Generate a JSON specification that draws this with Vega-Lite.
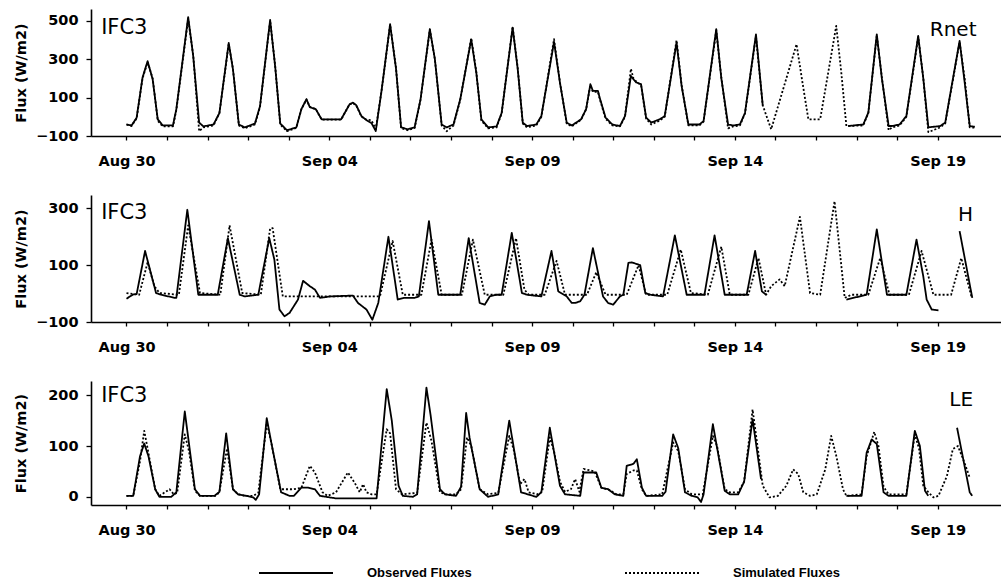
{
  "$schema": "https://vega.github.io/schema/vega-lite/v6.json",
  "padding": {"left": 13, "top": 9, "right": 0, "bottom": 0},
  "bounds": "flush",
  "spacing": 59,
  "config": {
    "view": {"stroke": null},
    "font": "DejaVu Sans",
    "axis": {
      "grid": false,
      "domainColor": "black",
      "domainWidth": 1.6,
      "tickColor": "black",
      "tickWidth": 1.3,
      "labelColor": "black",
      "labelFont": "DejaVu Sans",
      "labelFontWeight": "bold",
      "labelFontSize": 14.5,
      "titleColor": "black",
      "titleFont": "DejaVu Sans",
      "titleFontWeight": "bold",
      "titleFontSize": 14.5
    },
    "axisX": {"tickSize": 4, "labelPadding": 14, "title": null},
    "axisY": {"tickSize": 5, "labelPadding": 8, "titleAngle": 270, "titleX": -70, "titleBaseline": "middle", "titleAlign": "center"},
    "line": {"color": "black", "strokeWidth": 1.8, "strokeJoin": "round"},
    "legend": {
      "orient": "none",
      "legendX": 167,
      "legendY": 526,
      "direction": "horizontal",
      "padding": 0,
      "symbolType": "stroke",
      "symbolSize": 5476,
      "symbolStrokeWidth": 1.8,
      "symbolStrokeColor": "black",
      "labelFont": "Liberation Sans",
      "labelFontWeight": "bold",
      "labelFontSize": 13,
      "labelColor": "black",
      "labelOffset": 33,
      "columnPadding": 152
    }
  },
  "datasets": {
    "rnet_obs": [
      {"t":"1987-08-30T00:00Z","v":-40},{"t":"1987-08-30T03:00Z","v":-45},{"t":"1987-08-30T06:00Z","v":-5},{"t":"1987-08-30T09:30Z","v":205},{"t":"1987-08-30T12:30Z","v":290},{"t":"1987-08-30T15:30Z","v":195},{"t":"1987-08-30T18:30Z","v":-13},{"t":"1987-08-30T21:30Z","v":-45},
      {"t":"1987-08-31T03:30Z","v":-45},{"t":"1987-08-31T05:30Z","v":40},{"t":"1987-08-31T12:30Z","v":520},{"t":"1987-08-31T15:30Z","v":315},{"t":"1987-08-31T19:00Z","v":-30},{"t":"1987-08-31T21:30Z","v":-50},
      {"t":"1987-09-01T03:30Z","v":-40},{"t":"1987-09-01T07:00Z","v":20},{"t":"1987-09-01T12:30Z","v":385},{"t":"1987-09-01T15:00Z","v":248},{"t":"1987-09-01T18:30Z","v":-40},{"t":"1987-09-01T22:00Z","v":-55},
      {"t":"1987-09-02T04:00Z","v":-35},{"t":"1987-09-02T07:00Z","v":55},{"t":"1987-09-02T13:00Z","v":505},{"t":"1987-09-02T16:00Z","v":260},{"t":"1987-09-02T19:00Z","v":-35},{"t":"1987-09-02T23:00Z","v":-70},
      {"t":"1987-09-03T04:30Z","v":-55},{"t":"1987-09-03T07:30Z","v":40},{"t":"1987-09-03T10:30Z","v":92},{"t":"1987-09-03T12:30Z","v":50},{"t":"1987-09-03T16:00Z","v":40},{"t":"1987-09-03T19:30Z","v":-13},
      {"t":"1987-09-04T07:00Z","v":-13},{"t":"1987-09-04T12:00Z","v":65},{"t":"1987-09-04T14:00Z","v":74},{"t":"1987-09-04T16:00Z","v":60},{"t":"1987-09-04T19:00Z","v":4},{"t":"1987-09-04T22:00Z","v":-17},
      {"t":"1987-09-05T01:00Z","v":-33},{"t":"1987-09-05T03:30Z","v":-74},{"t":"1987-09-05T07:00Z","v":140},{"t":"1987-09-05T12:00Z","v":483},{"t":"1987-09-05T15:30Z","v":250},{"t":"1987-09-05T18:30Z","v":-55},{"t":"1987-09-05T22:30Z","v":-65},
      {"t":"1987-09-06T02:30Z","v":-55},{"t":"1987-09-06T06:00Z","v":91},{"t":"1987-09-06T11:30Z","v":457},{"t":"1987-09-06T14:30Z","v":300},{"t":"1987-09-06T18:30Z","v":-40},{"t":"1987-09-06T21:30Z","v":-55},
      {"t":"1987-09-07T01:30Z","v":-40},{"t":"1987-09-07T05:30Z","v":91},{"t":"1987-09-07T12:00Z","v":404},{"t":"1987-09-07T15:00Z","v":230},{"t":"1987-09-07T18:00Z","v":-13},{"t":"1987-09-07T22:00Z","v":-55},
      {"t":"1987-09-08T03:00Z","v":-50},{"t":"1987-09-08T06:00Z","v":20},{"t":"1987-09-08T12:30Z","v":465},{"t":"1987-09-08T15:30Z","v":250},{"t":"1987-09-08T18:30Z","v":-30},{"t":"1987-09-08T21:00Z","v":-48},
      {"t":"1987-09-09T02:30Z","v":-40},{"t":"1987-09-09T05:30Z","v":4},{"t":"1987-09-09T13:00Z","v":390},{"t":"1987-09-09T16:30Z","v":178},{"t":"1987-09-09T20:30Z","v":-30},{"t":"1987-09-09T23:30Z","v":-45},
      {"t":"1987-09-10T05:00Z","v":-13},{"t":"1987-09-10T08:00Z","v":40},{"t":"1987-09-10T10:30Z","v":170},{"t":"1987-09-10T12:00Z","v":135},{"t":"1987-09-10T15:00Z","v":135},{"t":"1987-09-10T16:00Z","v":100},{"t":"1987-09-10T19:30Z","v":-4},{"t":"1987-09-10T23:30Z","v":-40},
      {"t":"1987-09-11T04:00Z","v":-48},{"t":"1987-09-11T07:00Z","v":4},{"t":"1987-09-11T10:30Z","v":213},{"t":"1987-09-11T12:00Z","v":196},{"t":"1987-09-11T13:30Z","v":180},{"t":"1987-09-11T16:30Z","v":170},{"t":"1987-09-11T19:30Z","v":-4},{"t":"1987-09-11T22:30Z","v":-30},
      {"t":"1987-09-12T03:30Z","v":-13},{"t":"1987-09-12T06:30Z","v":4},{"t":"1987-09-12T13:30Z","v":387},{"t":"1987-09-12T16:30Z","v":161},{"t":"1987-09-12T20:30Z","v":-40},
      {"t":"1987-09-13T03:00Z","v":-40},{"t":"1987-09-13T05:30Z","v":-22},{"t":"1987-09-13T13:00Z","v":457},{"t":"1987-09-13T16:00Z","v":200},{"t":"1987-09-13T20:00Z","v":-40},{"t":"1987-09-13T23:00Z","v":-45},
      {"t":"1987-09-14T03:00Z","v":-40},{"t":"1987-09-14T06:00Z","v":20},{"t":"1987-09-14T12:30Z","v":430},{"t":"1987-09-14T16:30Z","v":60},
      {"t":"1987-09-15T12:00Z","v":null},
      {"t":"1987-09-16T19:00Z","v":-48},
      {"t":"1987-09-17T04:00Z","v":-40},{"t":"1987-09-17T07:00Z","v":22},{"t":"1987-09-17T12:00Z","v":430},{"t":"1987-09-17T15:00Z","v":200},{"t":"1987-09-17T19:00Z","v":-48},{"t":"1987-09-17T21:00Z","v":-48},
      {"t":"1987-09-18T01:30Z","v":-40},{"t":"1987-09-18T05:30Z","v":4},{"t":"1987-09-18T12:30Z","v":422},{"t":"1987-09-18T15:30Z","v":200},{"t":"1987-09-18T18:30Z","v":-55},
      {"t":"1987-09-19T01:30Z","v":-48},{"t":"1987-09-19T04:30Z","v":-30},{"t":"1987-09-19T13:00Z","v":396},{"t":"1987-09-19T16:00Z","v":180},{"t":"1987-09-19T19:00Z","v":-48},{"t":"1987-09-19T22:00Z","v":-52}
    ],
    "rnet_sim": [
      {"t":"1987-08-30T00:00Z","v":-40},{"t":"1987-08-30T03:00Z","v":-48},{"t":"1987-08-30T06:00Z","v":-8},{"t":"1987-08-30T09:30Z","v":200},{"t":"1987-08-30T12:30Z","v":285},{"t":"1987-08-30T15:30Z","v":200},{"t":"1987-08-30T18:30Z","v":-20},{"t":"1987-08-30T21:30Z","v":-50},
      {"t":"1987-08-31T03:30Z","v":-50},{"t":"1987-08-31T05:30Z","v":35},{"t":"1987-08-31T12:30Z","v":510},{"t":"1987-08-31T15:30Z","v":320},{"t":"1987-08-31T19:00Z","v":-75},{"t":"1987-08-31T21:30Z","v":-55},
      {"t":"1987-09-01T03:30Z","v":-45},{"t":"1987-09-01T07:00Z","v":20},{"t":"1987-09-01T12:30Z","v":380},{"t":"1987-09-01T15:00Z","v":250},{"t":"1987-09-01T18:30Z","v":-45},{"t":"1987-09-01T22:00Z","v":-60},
      {"t":"1987-09-02T04:00Z","v":-40},{"t":"1987-09-02T07:00Z","v":50},{"t":"1987-09-02T13:00Z","v":500},{"t":"1987-09-02T16:00Z","v":265},{"t":"1987-09-02T19:00Z","v":-40},{"t":"1987-09-02T23:00Z","v":-75},
      {"t":"1987-09-03T04:30Z","v":-58},{"t":"1987-09-03T07:30Z","v":40},{"t":"1987-09-03T10:30Z","v":90},{"t":"1987-09-03T12:30Z","v":52},{"t":"1987-09-03T16:00Z","v":40},{"t":"1987-09-03T19:30Z","v":-15},
      {"t":"1987-09-04T07:00Z","v":-15},{"t":"1987-09-04T12:00Z","v":65},{"t":"1987-09-04T14:00Z","v":72},{"t":"1987-09-04T16:00Z","v":58},{"t":"1987-09-04T19:00Z","v":2},{"t":"1987-09-04T22:00Z","v":-15},
      {"t":"1987-09-05T01:00Z","v":-18},{"t":"1987-09-05T03:30Z","v":-65},{"t":"1987-09-05T07:00Z","v":140},{"t":"1987-09-05T12:00Z","v":480},{"t":"1987-09-05T15:30Z","v":255},{"t":"1987-09-05T18:30Z","v":-60},{"t":"1987-09-05T22:30Z","v":-70},
      {"t":"1987-09-06T02:30Z","v":-58},{"t":"1987-09-06T06:00Z","v":88},{"t":"1987-09-06T11:30Z","v":455},{"t":"1987-09-06T14:30Z","v":300},{"t":"1987-09-06T18:30Z","v":-45},{"t":"1987-09-06T21:30Z","v":-75},
      {"t":"1987-09-07T01:30Z","v":-45},{"t":"1987-09-07T05:30Z","v":88},{"t":"1987-09-07T12:00Z","v":410},{"t":"1987-09-07T15:00Z","v":235},{"t":"1987-09-07T18:00Z","v":-20},{"t":"1987-09-07T22:00Z","v":-60},
      {"t":"1987-09-08T03:00Z","v":-55},{"t":"1987-09-08T06:00Z","v":18},{"t":"1987-09-08T12:30Z","v":470},{"t":"1987-09-08T15:30Z","v":255},{"t":"1987-09-08T18:30Z","v":-35},{"t":"1987-09-08T21:00Z","v":-55},
      {"t":"1987-09-09T02:30Z","v":-45},{"t":"1987-09-09T05:30Z","v":0},{"t":"1987-09-09T13:00Z","v":405},{"t":"1987-09-09T16:30Z","v":180},{"t":"1987-09-09T20:30Z","v":-35},{"t":"1987-09-09T23:30Z","v":-50},
      {"t":"1987-09-10T05:00Z","v":-15},{"t":"1987-09-10T08:00Z","v":40},{"t":"1987-09-10T10:30Z","v":165},{"t":"1987-09-10T12:00Z","v":130},{"t":"1987-09-10T15:00Z","v":130},{"t":"1987-09-10T16:00Z","v":95},{"t":"1987-09-10T19:30Z","v":-10},{"t":"1987-09-10T23:30Z","v":-45},
      {"t":"1987-09-11T04:00Z","v":-50},{"t":"1987-09-11T07:00Z","v":0},{"t":"1987-09-11T10:30Z","v":250},{"t":"1987-09-11T12:00Z","v":200},{"t":"1987-09-11T13:30Z","v":185},{"t":"1987-09-11T16:30Z","v":165},{"t":"1987-09-11T19:30Z","v":-10},{"t":"1987-09-11T22:30Z","v":-40},
      {"t":"1987-09-12T03:30Z","v":-20},{"t":"1987-09-12T06:30Z","v":0},{"t":"1987-09-12T13:30Z","v":400},{"t":"1987-09-12T16:30Z","v":165},{"t":"1987-09-12T20:30Z","v":-45},
      {"t":"1987-09-13T03:00Z","v":-45},{"t":"1987-09-13T05:30Z","v":-25},{"t":"1987-09-13T13:00Z","v":450},{"t":"1987-09-13T16:00Z","v":205},{"t":"1987-09-13T20:00Z","v":-60},{"t":"1987-09-13T23:00Z","v":-50},
      {"t":"1987-09-14T03:00Z","v":-45},{"t":"1987-09-14T06:00Z","v":18},{"t":"1987-09-14T12:30Z","v":420},{"t":"1987-09-14T16:30Z","v":60},{"t":"1987-09-14T21:30Z","v":-65},
      {"t":"1987-09-15T12:30Z","v":378},{"t":"1987-09-15T16:00Z","v":180},{"t":"1987-09-15T19:30Z","v":-13},
      {"t":"1987-09-16T02:30Z","v":-13},{"t":"1987-09-16T12:00Z","v":474},{"t":"1987-09-16T15:00Z","v":230},{"t":"1987-09-16T18:00Z","v":-48},
      {"t":"1987-09-17T04:00Z","v":-45},{"t":"1987-09-17T07:00Z","v":20},{"t":"1987-09-17T12:00Z","v":425},{"t":"1987-09-17T15:00Z","v":205},{"t":"1987-09-17T19:00Z","v":-70},{"t":"1987-09-17T21:00Z","v":-55},
      {"t":"1987-09-18T01:30Z","v":-45},{"t":"1987-09-18T05:30Z","v":0},{"t":"1987-09-18T12:30Z","v":415},{"t":"1987-09-18T15:30Z","v":205},{"t":"1987-09-18T18:30Z","v":-80},
      {"t":"1987-09-19T01:30Z","v":-55},{"t":"1987-09-19T04:30Z","v":-35},{"t":"1987-09-19T13:00Z","v":390},{"t":"1987-09-19T16:00Z","v":200},{"t":"1987-09-19T19:00Z","v":-55},{"t":"1987-09-19T22:00Z","v":-57}
    ],
    "h_obs": [
      {"t":"1987-08-30T00:00Z","v":-18},{"t":"1987-08-30T04:00Z","v":-3},{"t":"1987-08-30T06:00Z","v":-2},{"t":"1987-08-30T11:00Z","v":150},{"t":"1987-08-30T17:30Z","v":2},{"t":"1987-08-30T20:30Z","v":-4},
      {"t":"1987-08-31T04:30Z","v":-15},{"t":"1987-08-31T05:30Z","v":-15},{"t":"1987-08-31T12:00Z","v":295},{"t":"1987-08-31T18:30Z","v":-4},
      {"t":"1987-09-01T06:00Z","v":-4},{"t":"1987-09-01T12:00Z","v":195},{"t":"1987-09-01T19:00Z","v":-4},{"t":"1987-09-01T22:00Z","v":-10},
      {"t":"1987-09-02T06:00Z","v":-4},{"t":"1987-09-02T12:30Z","v":195},{"t":"1987-09-02T15:30Z","v":120},{"t":"1987-09-02T18:30Z","v":-56},{"t":"1987-09-02T21:30Z","v":-80},
      {"t":"1987-09-03T00:30Z","v":-68},{"t":"1987-09-03T05:30Z","v":-21},{"t":"1987-09-03T08:30Z","v":45},{"t":"1987-09-03T12:30Z","v":26},{"t":"1987-09-03T15:30Z","v":14},{"t":"1987-09-03T18:30Z","v":-15},
      {"t":"1987-09-04T00:30Z","v":-10},{"t":"1987-09-04T14:00Z","v":-7},{"t":"1987-09-04T17:00Z","v":-33},{"t":"1987-09-04T22:00Z","v":-56},
      {"t":"1987-09-05T01:30Z","v":-92},{"t":"1987-09-05T05:00Z","v":-33},{"t":"1987-09-05T11:00Z","v":200},{"t":"1987-09-05T16:30Z","v":-21},{"t":"1987-09-05T20:30Z","v":-15},
      {"t":"1987-09-06T02:30Z","v":-15},{"t":"1987-09-06T05:00Z","v":-10},{"t":"1987-09-06T11:00Z","v":255},{"t":"1987-09-06T16:30Z","v":-4},
      {"t":"1987-09-07T03:00Z","v":-4},{"t":"1987-09-07T05:30Z","v":-4},{"t":"1987-09-07T10:30Z","v":195},{"t":"1987-09-07T17:00Z","v":-33},{"t":"1987-09-07T20:00Z","v":-39},{"t":"1987-09-07T23:00Z","v":-10},
      {"t":"1987-09-08T03:00Z","v":-4},{"t":"1987-09-08T06:00Z","v":-4},{"t":"1987-09-08T12:00Z","v":214},{"t":"1987-09-08T18:00Z","v":2},{"t":"1987-09-08T21:00Z","v":-4},
      {"t":"1987-09-09T05:30Z","v":-10},{"t":"1987-09-09T11:30Z","v":150},{"t":"1987-09-09T15:30Z","v":8},{"t":"1987-09-09T20:30Z","v":-10},{"t":"1987-09-09T23:30Z","v":-33},
      {"t":"1987-09-10T01:30Z","v":-33},{"t":"1987-09-10T04:30Z","v":-27},{"t":"1987-09-10T07:00Z","v":-4},{"t":"1987-09-10T12:00Z","v":160},{"t":"1987-09-10T18:00Z","v":-10},{"t":"1987-09-10T21:00Z","v":-33},
      {"t":"1987-09-11T00:00Z","v":-39},{"t":"1987-09-11T04:00Z","v":-10},{"t":"1987-09-11T06:00Z","v":-4},{"t":"1987-09-11T09:00Z","v":108},{"t":"1987-09-11T11:00Z","v":110},{"t":"1987-09-11T16:00Z","v":100},{"t":"1987-09-11T19:00Z","v":2},{"t":"1987-09-11T22:00Z","v":-4},
      {"t":"1987-09-12T05:30Z","v":-10},{"t":"1987-09-12T12:30Z","v":205},{"t":"1987-09-12T19:30Z","v":-4},
      {"t":"1987-09-13T06:00Z","v":-4},{"t":"1987-09-13T12:00Z","v":205},{"t":"1987-09-13T18:00Z","v":-4},
      {"t":"1987-09-14T07:00Z","v":-4},{"t":"1987-09-14T12:00Z","v":150},{"t":"1987-09-14T16:00Z","v":8},{"t":"1987-09-14T18:30Z","v":-4},
      {"t":"1987-09-15T12:00Z","v":null},
      {"t":"1987-09-16T18:00Z","v":-21},
      {"t":"1987-09-17T06:00Z","v":-4},{"t":"1987-09-17T12:00Z","v":226},{"t":"1987-09-17T18:00Z","v":-4},
      {"t":"1987-09-18T05:30Z","v":-4},{"t":"1987-09-18T11:30Z","v":190},{"t":"1987-09-18T15:30Z","v":61},{"t":"1987-09-18T17:30Z","v":-21},{"t":"1987-09-18T20:30Z","v":-56},
      {"t":"1987-09-19T00:30Z","v":-59},{"t":"1987-09-19T06:00Z","v":null},{"t":"1987-09-19T13:00Z","v":220},{"t":"1987-09-19T20:30Z","v":-15}
    ],
    "h_sim": [
      {"t":"1987-08-30T00:00Z","v":2},{"t":"1987-08-30T07:30Z","v":-4},{"t":"1987-08-30T12:30Z","v":110},{"t":"1987-08-30T16:30Z","v":26},{"t":"1987-08-30T19:30Z","v":2},
      {"t":"1987-08-31T07:00Z","v":-4},{"t":"1987-08-31T12:30Z","v":240},{"t":"1987-08-31T19:30Z","v":2},
      {"t":"1987-09-01T07:30Z","v":-4},{"t":"1987-09-01T13:00Z","v":240},{"t":"1987-09-01T20:30Z","v":2},
      {"t":"1987-09-02T07:30Z","v":-4},{"t":"1987-09-02T13:00Z","v":230},{"t":"1987-09-02T14:30Z","v":230},{"t":"1987-09-02T20:30Z","v":-10},
      {"t":"1987-09-05T06:00Z","v":-10},{"t":"1987-09-05T13:30Z","v":185},{"t":"1987-09-05T19:30Z","v":-4},
      {"t":"1987-09-06T06:30Z","v":-4},{"t":"1987-09-06T12:30Z","v":190},{"t":"1987-09-06T18:30Z","v":-4},
      {"t":"1987-09-07T06:30Z","v":-4},{"t":"1987-09-07T13:00Z","v":190},{"t":"1987-09-07T20:00Z","v":-4},
      {"t":"1987-09-08T07:00Z","v":-4},{"t":"1987-09-08T14:30Z","v":195},{"t":"1987-09-08T19:30Z","v":14},{"t":"1987-09-08T22:00Z","v":-4},
      {"t":"1987-09-09T07:30Z","v":-4},{"t":"1987-09-09T14:30Z","v":115},{"t":"1987-09-09T19:30Z","v":-4},
      {"t":"1987-09-10T08:30Z","v":-4},{"t":"1987-09-10T14:00Z","v":75},{"t":"1987-09-10T19:30Z","v":-4},
      {"t":"1987-09-11T08:00Z","v":-4},{"t":"1987-09-11T15:00Z","v":100},{"t":"1987-09-11T19:30Z","v":-4},
      {"t":"1987-09-12T08:00Z","v":-4},{"t":"1987-09-12T16:00Z","v":155},{"t":"1987-09-12T22:00Z","v":2},
      {"t":"1987-09-13T08:00Z","v":-4},{"t":"1987-09-13T16:00Z","v":165},{"t":"1987-09-13T21:00Z","v":-4},
      {"t":"1987-09-14T08:00Z","v":-4},{"t":"1987-09-14T14:00Z","v":125},{"t":"1987-09-14T18:30Z","v":-4},{"t":"1987-09-14T21:30Z","v":26},
      {"t":"1987-09-15T02:30Z","v":50},{"t":"1987-09-15T05:30Z","v":26},{"t":"1987-09-15T14:30Z","v":270},{"t":"1987-09-15T20:30Z","v":2},
      {"t":"1987-09-16T02:30Z","v":-4},{"t":"1987-09-16T11:00Z","v":325},{"t":"1987-09-16T17:00Z","v":-15},{"t":"1987-09-16T21:00Z","v":-4},
      {"t":"1987-09-17T07:00Z","v":-4},{"t":"1987-09-17T14:00Z","v":125},{"t":"1987-09-17T19:30Z","v":-4},
      {"t":"1987-09-18T07:00Z","v":-4},{"t":"1987-09-18T14:30Z","v":150},{"t":"1987-09-18T21:30Z","v":-4},
      {"t":"1987-09-19T08:00Z","v":-4},{"t":"1987-09-19T14:00Z","v":125},{"t":"1987-09-19T20:00Z","v":-10}
    ],
    "le_obs": [
      {"t":"1987-08-30T00:00Z","v":2},{"t":"1987-08-30T04:00Z","v":2},{"t":"1987-08-30T08:00Z","v":80},{"t":"1987-08-30T10:30Z","v":105},{"t":"1987-08-30T13:00Z","v":80},{"t":"1987-08-30T17:00Z","v":15},{"t":"1987-08-30T19:30Z","v":0},
      {"t":"1987-08-31T02:30Z","v":0},{"t":"1987-08-31T05:30Z","v":9},{"t":"1987-08-31T10:30Z","v":168},{"t":"1987-08-31T16:30Z","v":15},{"t":"1987-08-31T19:30Z","v":2},
      {"t":"1987-09-01T04:00Z","v":2},{"t":"1987-09-01T07:00Z","v":10},{"t":"1987-09-01T11:00Z","v":125},{"t":"1987-09-01T15:00Z","v":15},{"t":"1987-09-01T18:00Z","v":5},{"t":"1987-09-01T23:00Z","v":2},
      {"t":"1987-09-02T03:00Z","v":-1},{"t":"1987-09-02T04:30Z","v":-6},{"t":"1987-09-02T06:30Z","v":5},{"t":"1987-09-02T11:00Z","v":155},{"t":"1987-09-02T13:30Z","v":110},{"t":"1987-09-02T19:30Z","v":9},
      {"t":"1987-09-03T00:30Z","v":2},{"t":"1987-09-03T03:00Z","v":2},{"t":"1987-09-03T07:30Z","v":18},{"t":"1987-09-03T11:30Z","v":18},{"t":"1987-09-03T15:30Z","v":15},{"t":"1987-09-03T18:30Z","v":2},
      {"t":"1987-09-04T04:00Z","v":-3},
      {"t":"1987-09-05T04:00Z","v":-3},{"t":"1987-09-05T10:00Z","v":212},{"t":"1987-09-05T13:00Z","v":150},{"t":"1987-09-05T17:00Z","v":22},{"t":"1987-09-05T19:30Z","v":2},
      {"t":"1987-09-06T01:30Z","v":0},{"t":"1987-09-06T04:00Z","v":5},{"t":"1987-09-06T09:30Z","v":215},{"t":"1987-09-06T12:00Z","v":160},{"t":"1987-09-06T17:30Z","v":15},{"t":"1987-09-06T20:30Z","v":5},
      {"t":"1987-09-07T03:00Z","v":2},{"t":"1987-09-07T06:00Z","v":20},{"t":"1987-09-07T09:00Z","v":165},{"t":"1987-09-07T11:00Z","v":117},{"t":"1987-09-07T17:00Z","v":15},{"t":"1987-09-07T22:00Z","v":0},
      {"t":"1987-09-08T04:00Z","v":5},{"t":"1987-09-08T10:30Z","v":150},{"t":"1987-09-08T13:00Z","v":100},{"t":"1987-09-08T17:30Z","v":9},
      {"t":"1987-09-09T02:30Z","v":0},{"t":"1987-09-09T05:30Z","v":9},{"t":"1987-09-09T10:30Z","v":136},{"t":"1987-09-09T16:30Z","v":22},{"t":"1987-09-09T19:30Z","v":5},
      {"t":"1987-09-10T04:30Z","v":2},{"t":"1987-09-10T06:30Z","v":48},{"t":"1987-09-10T14:00Z","v":48},{"t":"1987-09-10T17:00Z","v":18},{"t":"1987-09-10T21:00Z","v":15},
      {"t":"1987-09-11T01:00Z","v":5},{"t":"1987-09-11T06:00Z","v":2},{"t":"1987-09-11T08:00Z","v":61},{"t":"1987-09-11T12:00Z","v":65},{"t":"1987-09-11T14:00Z","v":74},{"t":"1987-09-11T17:00Z","v":18},{"t":"1987-09-11T19:30Z","v":2},
      {"t":"1987-09-12T05:00Z","v":2},{"t":"1987-09-12T07:00Z","v":10},{"t":"1987-09-12T11:30Z","v":123},{"t":"1987-09-12T14:30Z","v":96},{"t":"1987-09-12T18:30Z","v":9},{"t":"1987-09-12T22:30Z","v":2},
      {"t":"1987-09-13T02:00Z","v":-1},{"t":"1987-09-13T04:00Z","v":-10},{"t":"1987-09-13T05:30Z","v":5},{"t":"1987-09-13T11:00Z","v":143},{"t":"1987-09-13T18:00Z","v":12},{"t":"1987-09-13T21:00Z","v":5},
      {"t":"1987-09-14T02:00Z","v":5},{"t":"1987-09-14T05:30Z","v":30},{"t":"1987-09-14T10:30Z","v":153},{"t":"1987-09-14T15:30Z","v":35},
      {"t":"1987-09-15T12:00Z","v":null},
      {"t":"1987-09-16T18:00Z","v":2},
      {"t":"1987-09-17T03:00Z","v":2},{"t":"1987-09-17T06:00Z","v":87},{"t":"1987-09-17T09:00Z","v":113},{"t":"1987-09-17T12:00Z","v":104},{"t":"1987-09-17T16:00Z","v":9},{"t":"1987-09-17T19:00Z","v":2},
      {"t":"1987-09-18T05:30Z","v":2},{"t":"1987-09-18T10:30Z","v":130},{"t":"1987-09-18T13:30Z","v":100},{"t":"1987-09-18T16:30Z","v":12},{"t":"1987-09-18T18:30Z","v":2},
      {"t":"1987-09-19T03:00Z","v":null},{"t":"1987-09-19T11:30Z","v":136},{"t":"1987-09-19T19:00Z","v":9},{"t":"1987-09-19T20:30Z","v":2}
    ],
    "le_sim": [
      {"t":"1987-08-30T00:00Z","v":2},{"t":"1987-08-30T04:00Z","v":2},{"t":"1987-08-30T08:00Z","v":70},{"t":"1987-08-30T10:30Z","v":130},{"t":"1987-08-30T12:30Z","v":95},{"t":"1987-08-30T17:00Z","v":15},{"t":"1987-08-30T19:30Z","v":2},
      {"t":"1987-08-31T01:30Z","v":15},{"t":"1987-08-31T04:00Z","v":5},{"t":"1987-08-31T06:00Z","v":8},{"t":"1987-08-31T10:30Z","v":123},{"t":"1987-08-31T13:00Z","v":90},{"t":"1987-08-31T16:30Z","v":12},{"t":"1987-08-31T19:30Z","v":2},
      {"t":"1987-09-01T05:00Z","v":2},{"t":"1987-09-01T07:00Z","v":10},{"t":"1987-09-01T11:30Z","v":95},{"t":"1987-09-01T15:00Z","v":15},{"t":"1987-09-01T18:00Z","v":5},{"t":"1987-09-01T22:00Z","v":2},
      {"t":"1987-09-02T03:00Z","v":2},{"t":"1987-09-02T06:00Z","v":8},{"t":"1987-09-02T11:00Z","v":145},{"t":"1987-09-02T13:30Z","v":110},{"t":"1987-09-02T19:00Z","v":15},{"t":"1987-09-02T22:00Z","v":15},
      {"t":"1987-09-03T03:00Z","v":15},{"t":"1987-09-03T07:30Z","v":18},{"t":"1987-09-03T12:30Z","v":61},{"t":"1987-09-03T15:30Z","v":48},{"t":"1987-09-03T20:00Z","v":9},{"t":"1987-09-03T23:00Z","v":2},
      {"t":"1987-09-04T04:00Z","v":9},{"t":"1987-09-04T11:00Z","v":48},{"t":"1987-09-04T15:00Z","v":28},{"t":"1987-09-04T18:00Z","v":9},{"t":"1987-09-04T20:00Z","v":25},{"t":"1987-09-04T22:00Z","v":9},
      {"t":"1987-09-05T01:00Z","v":5},{"t":"1987-09-05T04:00Z","v":5},{"t":"1987-09-05T10:00Z","v":133},{"t":"1987-09-05T12:00Z","v":125},{"t":"1987-09-05T15:30Z","v":15},{"t":"1987-09-05T19:00Z","v":5},
      {"t":"1987-09-06T04:00Z","v":8},{"t":"1987-09-06T09:30Z","v":146},{"t":"1987-09-06T12:30Z","v":110},{"t":"1987-09-06T17:30Z","v":9},{"t":"1987-09-06T21:00Z","v":5},
      {"t":"1987-09-07T03:00Z","v":5},{"t":"1987-09-07T06:00Z","v":15},{"t":"1987-09-07T09:30Z","v":117},{"t":"1987-09-07T12:00Z","v":100},{"t":"1987-09-07T17:00Z","v":15},{"t":"1987-09-07T22:00Z","v":5},
      {"t":"1987-09-08T04:00Z","v":8},{"t":"1987-09-08T10:30Z","v":120},{"t":"1987-09-08T13:00Z","v":95},{"t":"1987-09-08T17:00Z","v":25},{"t":"1987-09-08T19:30Z","v":35},{"t":"1987-09-08T22:00Z","v":9},
      {"t":"1987-09-09T03:00Z","v":5},{"t":"1987-09-09T06:00Z","v":10},{"t":"1987-09-09T10:30Z","v":117},{"t":"1987-09-09T13:00Z","v":90},{"t":"1987-09-09T16:30Z","v":30},{"t":"1987-09-09T19:30Z","v":10},{"t":"1987-09-09T23:00Z","v":15},
      {"t":"1987-09-10T01:30Z","v":35},{"t":"1987-09-10T04:00Z","v":10},{"t":"1987-09-10T06:30Z","v":55},{"t":"1987-09-10T13:00Z","v":50},{"t":"1987-09-10T17:00Z","v":18},{"t":"1987-09-10T21:00Z","v":15},
      {"t":"1987-09-11T02:00Z","v":5},{"t":"1987-09-11T06:00Z","v":5},{"t":"1987-09-11T08:00Z","v":45},{"t":"1987-09-11T12:00Z","v":52},{"t":"1987-09-11T14:00Z","v":52},{"t":"1987-09-11T17:00Z","v":15},{"t":"1987-09-11T19:30Z","v":2},
      {"t":"1987-09-12T05:00Z","v":5},{"t":"1987-09-12T11:30Z","v":107},{"t":"1987-09-12T14:30Z","v":90},{"t":"1987-09-12T18:30Z","v":15},{"t":"1987-09-12T22:30Z","v":5},
      {"t":"1987-09-13T05:00Z","v":5},{"t":"1987-09-13T11:00Z","v":120},{"t":"1987-09-13T13:30Z","v":100},{"t":"1987-09-13T18:00Z","v":15},{"t":"1987-09-13T21:00Z","v":9},
      {"t":"1987-09-14T02:00Z","v":9},{"t":"1987-09-14T05:30Z","v":30},{"t":"1987-09-14T10:30Z","v":172},{"t":"1987-09-14T13:00Z","v":110},{"t":"1987-09-14T16:30Z","v":22},{"t":"1987-09-14T20:30Z","v":-1},
      {"t":"1987-09-15T01:30Z","v":2},{"t":"1987-09-15T06:30Z","v":22},{"t":"1987-09-15T10:30Z","v":54},{"t":"1987-09-15T13:30Z","v":45},{"t":"1987-09-15T16:30Z","v":9},{"t":"1987-09-15T20:30Z","v":2},
      {"t":"1987-09-16T00:30Z","v":5},{"t":"1987-09-16T05:30Z","v":54},{"t":"1987-09-16T09:00Z","v":120},{"t":"1987-09-16T12:00Z","v":81},{"t":"1987-09-16T16:00Z","v":15},{"t":"1987-09-16T18:00Z","v":2},
      {"t":"1987-09-17T03:00Z","v":5},{"t":"1987-09-17T06:00Z","v":80},{"t":"1987-09-17T10:30Z","v":128},{"t":"1987-09-17T13:00Z","v":100},{"t":"1987-09-17T16:00Z","v":20},{"t":"1987-09-17T19:00Z","v":5},
      {"t":"1987-09-18T05:30Z","v":5},{"t":"1987-09-18T10:30Z","v":123},{"t":"1987-09-18T13:00Z","v":95},{"t":"1987-09-18T15:30Z","v":22},{"t":"1987-09-18T18:30Z","v":9},{"t":"1987-09-18T21:30Z","v":-1},
      {"t":"1987-09-19T00:30Z","v":2},{"t":"1987-09-19T05:30Z","v":41},{"t":"1987-09-19T09:00Z","v":94},{"t":"1987-09-19T12:00Z","v":100},{"t":"1987-09-19T15:00Z","v":75},{"t":"1987-09-19T19:00Z","v":38}
    ]
  },
  "vconcat": [
    {
      "width": 910,
      "height": 127,
      "layer": [
        {
          "data": {"name": "rnet_obs"},
          "mark": {"type": "line", "invalid": "break-paths-filter-domains"},
          "encoding": {
            "x": {"field": "t", "type": "temporal",
              "scale": {"type": "utc", "domain": [{"year": 1987, "month": "Aug", "date": 29, "hours": 3, "utc": true}, {"year": 1987, "month": "Sep", "date": 20, "hours": 13, "minutes": 30, "utc": true}]},
              "axis": {"title": null, "format": "%b %d", "labelOverlap": false,
                "labelExpr": "indexof(['Aug 30','Sep 04','Sep 09','Sep 14','Sep 19'], datum.label) >= 0 ? datum.label : ''",
                "values": [
                  {"year":1987,"month":"Aug","date":30,"utc":true},{"year":1987,"month":"Aug","date":31,"utc":true},{"year":1987,"month":"Sep","date":1,"utc":true},{"year":1987,"month":"Sep","date":2,"utc":true},{"year":1987,"month":"Sep","date":3,"utc":true},{"year":1987,"month":"Sep","date":4,"utc":true},{"year":1987,"month":"Sep","date":5,"utc":true},{"year":1987,"month":"Sep","date":6,"utc":true},{"year":1987,"month":"Sep","date":7,"utc":true},{"year":1987,"month":"Sep","date":8,"utc":true},{"year":1987,"month":"Sep","date":9,"utc":true},{"year":1987,"month":"Sep","date":10,"utc":true},{"year":1987,"month":"Sep","date":11,"utc":true},{"year":1987,"month":"Sep","date":12,"utc":true},{"year":1987,"month":"Sep","date":13,"utc":true},{"year":1987,"month":"Sep","date":14,"utc":true},{"year":1987,"month":"Sep","date":15,"utc":true},{"year":1987,"month":"Sep","date":16,"utc":true},{"year":1987,"month":"Sep","date":17,"utc":true},{"year":1987,"month":"Sep","date":18,"utc":true},{"year":1987,"month":"Sep","date":19,"utc":true}
                ]}},
            "y": {"field": "v", "type": "quantitative",
              "scale": {"domain": [-100, 562], "nice": false, "zero": false},
              "axis": {"title": "Flux (W/m2)", "values": [-100, 0, 100, 200, 300, 400, 500],
                "labelExpr": "abs(datum.value % 200) == 100 ? datum.label : ''"}},
            "strokeDash": {"datum": "Observed Fluxes", "type": "nominal",
              "scale": {"domain": ["Observed Fluxes", "Simulated Fluxes"], "range": [[1, 0], [2, 2]]},
              "legend": {"title": null}}
          }
        },
        {
          "data": {"name": "rnet_sim"},
          "mark": {"type": "line"},
          "encoding": {
            "x": {"field": "t", "type": "temporal"},
            "y": {"field": "v", "type": "quantitative"},
            "strokeDash": {"datum": "Simulated Fluxes", "type": "nominal"}
          }
        },
        {"mark": {"type": "rule", "strokeWidth": 2, "color": "black"}, "encoding": {"y": {"datum": 562}}},
        {"data": {"values": [{}]},
          "mark": {"type": "text", "align": "left", "baseline": "alphabetic", "fontSize": 21, "font": "DejaVu Sans", "color": "black"},
          "encoding": {"text": {"value": "IFC3"}, "x": {"datum": {"year": 1987, "month": "Aug", "date": 29, "hours": 9, "utc": true}, "type": "temporal"}, "y": {"datum": 431}}},
        {"data": {"values": [{}]},
          "mark": {"type": "text", "align": "right", "baseline": "alphabetic", "fontSize": 20, "font": "DejaVu Sans", "color": "black"},
          "encoding": {"text": {"value": "Rnet"}, "x": {"datum": {"year": 1987, "month": "Sep", "date": 19, "hours": 23, "utc": true}, "type": "temporal"}, "y": {"datum": 422}}}
      ]
    },
    {
      "width": 910,
      "height": 127,
      "layer": [
        {
          "data": {"name": "h_obs"},
          "mark": {"type": "line", "invalid": "break-paths-filter-domains"},
          "encoding": {
            "x": {"field": "t", "type": "temporal",
              "scale": {"type": "utc", "domain": [{"year": 1987, "month": "Aug", "date": 29, "hours": 3, "utc": true}, {"year": 1987, "month": "Sep", "date": 20, "hours": 13, "minutes": 30, "utc": true}]},
              "axis": {"title": null, "format": "%b %d", "labelOverlap": false,
                "labelExpr": "indexof(['Aug 30','Sep 04','Sep 09','Sep 14','Sep 19'], datum.label) >= 0 ? datum.label : ''",
                "values": [
                  {"year":1987,"month":"Aug","date":30,"utc":true},{"year":1987,"month":"Aug","date":31,"utc":true},{"year":1987,"month":"Sep","date":1,"utc":true},{"year":1987,"month":"Sep","date":2,"utc":true},{"year":1987,"month":"Sep","date":3,"utc":true},{"year":1987,"month":"Sep","date":4,"utc":true},{"year":1987,"month":"Sep","date":5,"utc":true},{"year":1987,"month":"Sep","date":6,"utc":true},{"year":1987,"month":"Sep","date":7,"utc":true},{"year":1987,"month":"Sep","date":8,"utc":true},{"year":1987,"month":"Sep","date":9,"utc":true},{"year":1987,"month":"Sep","date":10,"utc":true},{"year":1987,"month":"Sep","date":11,"utc":true},{"year":1987,"month":"Sep","date":12,"utc":true},{"year":1987,"month":"Sep","date":13,"utc":true},{"year":1987,"month":"Sep","date":14,"utc":true},{"year":1987,"month":"Sep","date":15,"utc":true},{"year":1987,"month":"Sep","date":16,"utc":true},{"year":1987,"month":"Sep","date":17,"utc":true},{"year":1987,"month":"Sep","date":18,"utc":true},{"year":1987,"month":"Sep","date":19,"utc":true}
                ]}},
            "y": {"field": "v", "type": "quantitative",
              "scale": {"domain": [-100, 347], "nice": false, "zero": false},
              "axis": {"title": "Flux (W/m2)", "values": [-100, 0, 100, 200, 300]}},
            "strokeDash": {"datum": "Observed Fluxes", "type": "nominal"}
          }
        },
        {
          "data": {"name": "h_sim"},
          "mark": {"type": "line"},
          "encoding": {
            "x": {"field": "t", "type": "temporal"},
            "y": {"field": "v", "type": "quantitative"},
            "strokeDash": {"datum": "Simulated Fluxes", "type": "nominal"}
          }
        },
        {"mark": {"type": "rule", "strokeWidth": 2, "color": "black"}, "encoding": {"y": {"datum": 347}}},
        {"data": {"values": [{}]},
          "mark": {"type": "text", "align": "left", "baseline": "alphabetic", "fontSize": 21, "font": "DejaVu Sans", "color": "black"},
          "encoding": {"text": {"value": "IFC3"}, "x": {"datum": {"year": 1987, "month": "Aug", "date": 29, "hours": 9, "utc": true}, "type": "temporal"}, "y": {"datum": 264}}},
        {"data": {"values": [{}]},
          "mark": {"type": "text", "align": "right", "baseline": "alphabetic", "fontSize": 20, "font": "DejaVu Sans", "color": "black"},
          "encoding": {"text": {"value": "H"}, "x": {"datum": {"year": 1987, "month": "Sep", "date": 19, "hours": 21, "utc": true}, "type": "temporal"}, "y": {"datum": 255}}}
      ]
    },
    {
      "width": 910,
      "height": 124,
      "layer": [
        {
          "data": {"name": "le_obs"},
          "mark": {"type": "line", "invalid": "break-paths-filter-domains"},
          "encoding": {
            "x": {"field": "t", "type": "temporal",
              "scale": {"type": "utc", "domain": [{"year": 1987, "month": "Aug", "date": 29, "hours": 3, "utc": true}, {"year": 1987, "month": "Sep", "date": 20, "hours": 13, "minutes": 30, "utc": true}]},
              "axis": {"title": null, "format": "%b %d", "labelOverlap": false,
                "labelExpr": "indexof(['Aug 30','Sep 04','Sep 09','Sep 14','Sep 19'], datum.label) >= 0 ? datum.label : ''",
                "values": [
                  {"year":1987,"month":"Aug","date":30,"utc":true},{"year":1987,"month":"Aug","date":31,"utc":true},{"year":1987,"month":"Sep","date":1,"utc":true},{"year":1987,"month":"Sep","date":2,"utc":true},{"year":1987,"month":"Sep","date":3,"utc":true},{"year":1987,"month":"Sep","date":4,"utc":true},{"year":1987,"month":"Sep","date":5,"utc":true},{"year":1987,"month":"Sep","date":6,"utc":true},{"year":1987,"month":"Sep","date":7,"utc":true},{"year":1987,"month":"Sep","date":8,"utc":true},{"year":1987,"month":"Sep","date":9,"utc":true},{"year":1987,"month":"Sep","date":10,"utc":true},{"year":1987,"month":"Sep","date":11,"utc":true},{"year":1987,"month":"Sep","date":12,"utc":true},{"year":1987,"month":"Sep","date":13,"utc":true},{"year":1987,"month":"Sep","date":14,"utc":true},{"year":1987,"month":"Sep","date":15,"utc":true},{"year":1987,"month":"Sep","date":16,"utc":true},{"year":1987,"month":"Sep","date":17,"utc":true},{"year":1987,"month":"Sep","date":18,"utc":true},{"year":1987,"month":"Sep","date":19,"utc":true}
                ]}},
            "y": {"field": "v", "type": "quantitative",
              "scale": {"domain": [-16, 228], "nice": false, "zero": false},
              "axis": {"title": "Flux (W/m2)", "values": [0, 50, 100, 150, 200]}},
            "strokeDash": {"datum": "Observed Fluxes", "type": "nominal"}
          }
        },
        {
          "data": {"name": "le_sim"},
          "mark": {"type": "line"},
          "encoding": {
            "x": {"field": "t", "type": "temporal"},
            "y": {"field": "v", "type": "quantitative"},
            "strokeDash": {"datum": "Simulated Fluxes", "type": "nominal"}
          }
        },
        {"mark": {"type": "rule", "strokeWidth": 2, "color": "black"}, "encoding": {"y": {"datum": 228}}},
        {"data": {"values": [{}]},
          "mark": {"type": "text", "align": "left", "baseline": "alphabetic", "fontSize": 21, "font": "DejaVu Sans", "color": "black"},
          "encoding": {"text": {"value": "IFC3"}, "x": {"datum": {"year": 1987, "month": "Aug", "date": 29, "hours": 9, "utc": true}, "type": "temporal"}, "y": {"datum": 186}}},
        {"data": {"values": [{}]},
          "mark": {"type": "text", "align": "right", "baseline": "alphabetic", "fontSize": 20, "font": "DejaVu Sans", "color": "black"},
          "encoding": {"text": {"value": "LE"}, "x": {"datum": {"year": 1987, "month": "Sep", "date": 19, "hours": 21, "utc": true}, "type": "temporal"}, "y": {"datum": 179}}}
      ]
    }
  ]
}
